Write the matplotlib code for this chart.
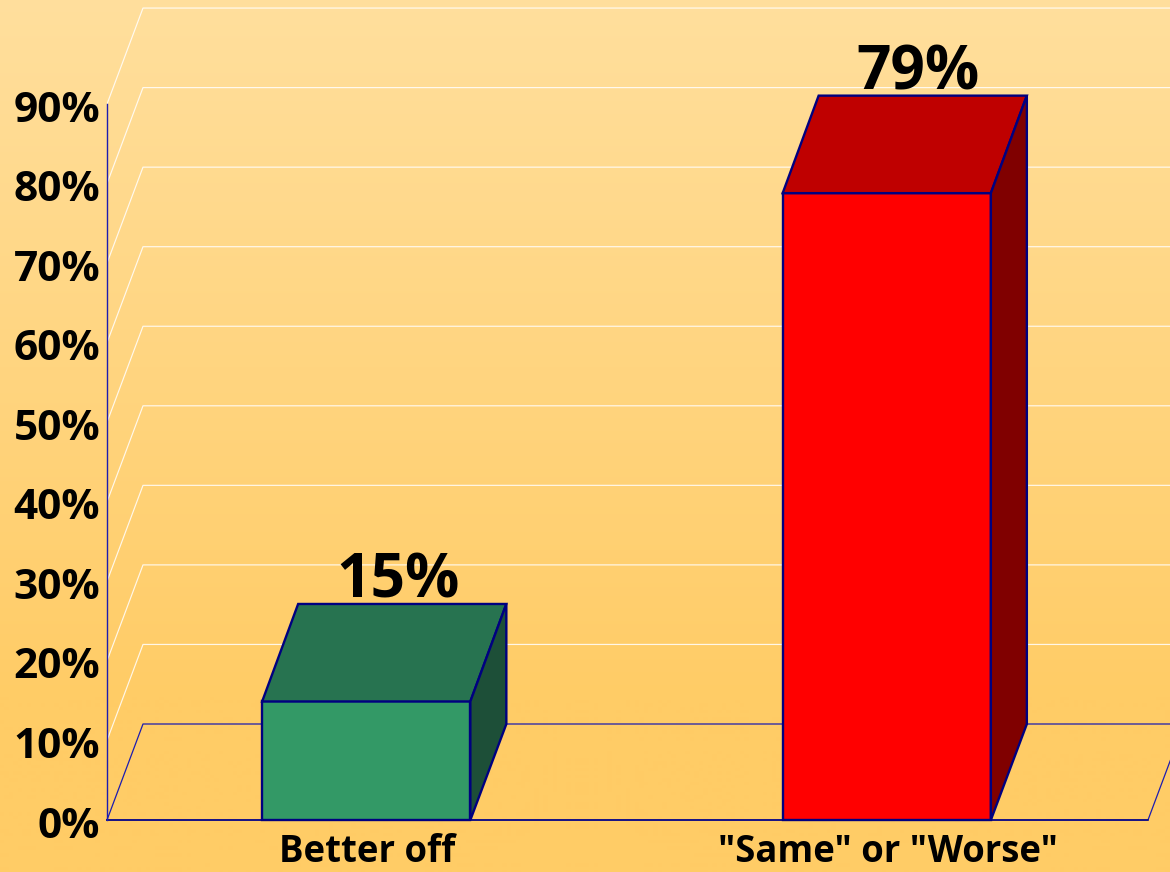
import numpy as np
import matplotlib
matplotlib.use('Agg')
import matplotlib.pyplot as plt
from matplotlib.transforms import ScaledTranslation

categories = ['Better off', '"Same" or "Worse"']
bar_values = [14.9, 78.8]
value_labels = ['15%', '79%']
y_ticks = [0, 10, 20, 30, 40, 50, 60, 70, 80, 90]
y_tick_labels = ['0%', '10%', '20%', '30%', '40%', '50%', '60%', '70%', '80%', '90%']

front_colors = ['#339966', '#ff0000']
top_colors = ['#277350', '#bf0000']
side_colors = ['#1d4f38', '#800000']

NAVY = '#000080'
AXIS_BLUE = '#1c1cb0'
W, H = 1170, 872
LEFT, BASE = 107, 820          # pixel position of the origin
X_UNIT = 520.5                 # pixels per category
Y_UNIT = 7.955                 # pixels per percent
DX = 36 / X_UNIT               # depth of the fake 3d box
DY = 96 / Y_UNIT
BAR_DY = 97.5 / Y_UNIT
BAR_W = 0.4
BAR_SHIFT = -1 / X_UNIT

plt.rcParams['font.family'] = ['Open Sans', 'DejaVu Sans']
plt.rcParams['font.weight'] = 'bold'

fig = plt.figure(figsize=(W / 100, H / 100), dpi=100)

# background gradient, flat below about y=700
bg = fig.add_axes([0, 0, 1, 1], zorder=0)
top_col = np.array([255, 223, 157]) / 255
bot_col = np.array([255, 204, 102]) / 255
t = np.clip(np.linspace(0, 1, 872) / 0.8, 0, 1)[:, None, None]
bg.imshow(top_col * (1 - t) + bot_col * t, aspect='auto', extent=[0, 1, 0, 1])
bg.axis('off')

ax = fig.add_axes([LEFT / W, (H - BASE) / H, (W - LEFT) / W, BASE / H], zorder=1)
ax.patch.set_alpha(0)
x0 = -0.5
x1 = x0 + len(categories)
ax.set_xlim(x0, x0 + (W - LEFT) / X_UNIT)
ax.set_ylim(0, BASE / Y_UNIT)

# wall gridlines
for y in y_ticks[1:]:
    ax.plot([x0, x0 + DX, x1 + DX], [y, y + DY, y + DY], color='white', lw=0.85, alpha=0.85, zorder=1)

# floor
ax.plot([x0, x0 + DX, x1 + DX, x1, x0], [0, DY, DY, 0, 0], color=AXIS_BLUE, lw=0.9, zorder=2, clip_on=False)
ax.plot([x0, x1], [0, 0], color=NAVY, lw=1.1, zorder=2, clip_on=False)

# bars
xs = np.arange(len(categories))
ax.bar(xs + BAR_SHIFT, bar_values, width=BAR_W, color=front_colors, edgecolor=NAVY, linewidth=1.7, zorder=3, clip_on=False)
for x, v, tc, sc, lab in zip(xs + BAR_SHIFT, bar_values, top_colors, side_colors, value_labels):
    l, r = x - BAR_W / 2, x + BAR_W / 2
    ax.fill([l, l + DX, r + DX, r], [v, v + BAR_DY, v + BAR_DY, v], fc=tc, ec=NAVY, lw=1.7, zorder=3)
    ax.fill([r, r + DX, r + DX, r], [0, DY, v + BAR_DY, v], fc=sc, ec=NAVY, lw=1.7, zorder=3)
    ax.annotate(lab, (x + DX * 0.87, v + BAR_DY), xytext=(0, 4.5), textcoords='offset points',
                ha='center', va='baseline', fontsize=43.5, fontweight='bold', color='black', zorder=4)

for s in ['top', 'right', 'bottom']:
    ax.spines[s].set_visible(False)
ax.spines['left'].set_bounds(0, 90)
ax.spines['left'].set_color(AXIS_BLUE)
ax.spines['left'].set_linewidth(1.0)

ax.set_yticks(y_ticks)
ax.set_yticklabels(y_tick_labels, fontsize=30.5, fontweight='bold')
ax.set_xticks(xs)
ax.set_xticklabels(categories, fontsize=26.3, fontweight='bold')
ax.tick_params(axis='both', length=0)
ax.tick_params(axis='y', pad=5)
ax.tick_params(axis='x', pad=9)
for lab in ax.get_yticklabels():
    lab.set_transform(lab.get_transform() + ScaledTranslation(0, -1.5 / 72, fig.dpi_scale_trans))

fig.savefig('out.png', dpi=100)
